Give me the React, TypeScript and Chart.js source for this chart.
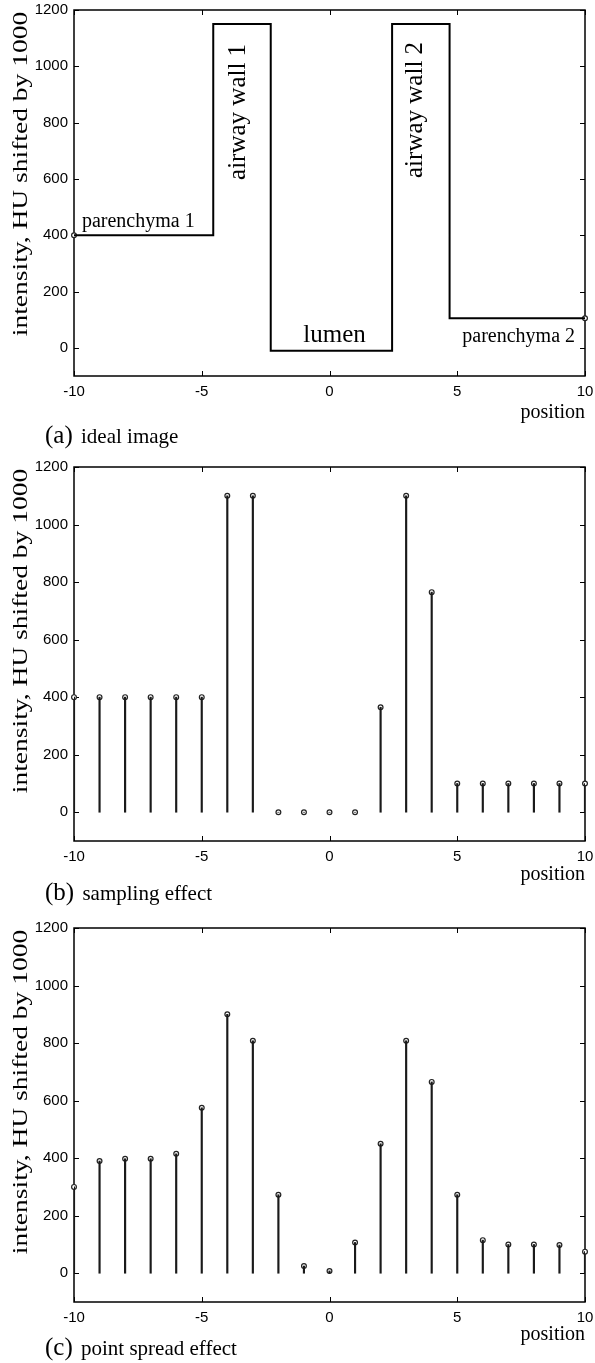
import React, { useEffect, useRef } from 'react';
import { Chart, registerables } from 'chart.js';

Chart.register(...registerables);

const SERIF = '"Liberation Serif", "Times New Roman", serif';
const SANS = '"Liberation Sans", Arial, sans-serif';

// ---------- data ----------
const xTickValues = [-10, -5, 0, 5, 10];
const yTickValues = [0, 200, 400, 600, 800, 1000, 1200];
const yAxisTitle = 'intensity, HU shifted by 1000';
const xAxisTitle = 'position';

// (a) ideal image: piecewise-constant profile
const idealX = [-10, -4.55, -4.55, -2.3, -2.3, 2.45, 2.45, 4.7, 4.7, 10];
const idealY = [400, 400, 1150, 1150, -10, -10, 1150, 1150, 105, 105];
const idealMarkerX = [-10, 10];
const idealMarkerY = [400, 105];
const regionNames = ['parenchyma 1', 'airway wall 1', 'lumen', 'airway wall 2', 'parenchyma 2'];

// (b) sampling effect, (c) point spread effect
const samplePositions = [-10, -9, -8, -7, -6, -5, -4, -3, -2, -1, 0, 1, 2, 3, 4, 5, 6, 7, 8, 9, 10];
const sampledValues = [400, 400, 400, 400, 400, 400, 1100, 1100, 0, 0, 0, 0, 365, 1100, 765, 100, 100, 100, 100, 100, 100];
const spreadValues = [300, 390, 398, 398, 415, 575, 900, 808, 273, 25, 8, 107, 450, 808, 665, 273, 115, 100, 100, 98, 75];

const captionTags = ['(a)', '(b)', '(c)'];
const captionTexts = ['ideal image', 'sampling effect', 'point spread effect'];

// ---------- layout (positions / styles) ----------
const PAGE_W = 595;
const AXIS_W = 74;
const X_AXIS_H = 50;
const panelLayout = [
  { top: 0, plotTop: 10, plotBottom: 376, titleY: 413, captionBaseline: 443 },
  { top: 457, plotTop: 467, plotBottom: 841, titleY: 875, captionBaseline: 900 },
  { top: 918, plotTop: 928, plotBottom: 1302, titleY: 1335, captionBaseline: 1355 },
];
// anchors of the region labels in data coordinates
const regionLabelAnchors = [
  { x: -9.69, y: 428, align: 'left', rotate: false, size: 20 },
  { x: -3.31, y: 838, align: 'center', rotate: true, size: 25 },
  { x: 0.2, y: 19, align: 'center', rotate: false, size: 25 },
  { x: 3.62, y: 845, align: 'center', rotate: true, size: 25 },
  { x: 9.61, y: 19, align: 'right', rotate: false, size: 20 },
];

const frameAndTitlePlugin = {
  id: 'frameAndTitle',
  beforeDatasetsDraw(chart: any) {
    const { ctx, chartArea: a, scales } = chart;
    ctx.save();
    ctx.strokeStyle = '#000';
    ctx.lineWidth = 1.5;
    ctx.strokeRect(a.left, a.top, a.right - a.left, a.bottom - a.top);
    ctx.lineWidth = 1;
    const L = 5;
    ctx.beginPath();
    for (const v of xTickValues) {
      const px = Math.round(scales.x.getPixelForValue(v)) + 0.5;
      ctx.moveTo(px, a.bottom);
      ctx.lineTo(px, a.bottom - L);
      ctx.moveTo(px, a.top);
      ctx.lineTo(px, a.top + L);
    }
    for (const v of yTickValues) {
      const py = Math.round(scales.y.getPixelForValue(v)) + 0.5;
      ctx.moveTo(a.left, py);
      ctx.lineTo(a.left + L, py);
      ctx.moveTo(a.right, py);
      ctx.lineTo(a.right - L, py);
    }
    ctx.stroke();
    ctx.restore();
  },
  afterDraw(chart: any) {
    const { ctx, chartArea: a } = chart;
    ctx.save();
    ctx.fillStyle = '#000';
    ctx.font = `22px ${SERIF}`;
    ctx.translate(27, a.top + 164);
    ctx.rotate(-Math.PI / 2);
    ctx.scale(1.25, 1);
    ctx.textAlign = 'center';
    ctx.textBaseline = 'alphabetic';
    ctx.fillText(yAxisTitle, 0, 0);
    ctx.restore();
  },
};

const regionLabelPlugin = {
  id: 'regionLabels',
  afterDatasetsDraw(chart: any) {
    const { ctx, scales } = chart;
    ctx.save();
    ctx.fillStyle = '#000';
    ctx.textBaseline = 'alphabetic';
    regionNames.forEach((name, i) => {
      const an = regionLabelAnchors[i];
      const px = scales.x.getPixelForValue(an.x);
      const py = scales.y.getPixelForValue(an.y);
      ctx.font = `${an.size}px ${SERIF}`;
      ctx.textAlign = an.align;
      if (an.rotate) {
        ctx.save();
        ctx.translate(px, py);
        ctx.rotate(-Math.PI / 2);
        ctx.fillText(name, 0, 0);
        ctx.restore();
      } else {
        ctx.fillText(name, px, py);
      }
    });
    ctx.restore();
  },
};

function makeScales(titlePad: number) {
  return {
    x: {
      type: 'linear',
      min: -10,
      max: 10,
      offset: false,
      grid: { display: false, drawTicks: false },
      border: { display: false },
      afterBuildTicks: (s: any) => {
        s.ticks = xTickValues.map((v) => ({ value: v }));
      },
      afterFit: (s: any) => {
        s.height = X_AXIS_H;
        s.paddingLeft = 0;
        s.paddingRight = 0;
      },
      ticks: {
        padding: 7,
        color: '#000',
        autoSkip: false,
        maxRotation: 0,
        font: { family: SANS, size: 15 },
        callback: (v: any) => String(v),
      },
      title: {
        display: true,
        text: xAxisTitle,
        align: 'end',
        color: '#000',
        font: { family: SERIF, size: 20, lineHeight: 1.2 },
        padding: { top: 0, bottom: titlePad },
      },
    },
    y: {
      type: 'linear',
      min: -100,
      max: 1200,
      grid: { display: false, drawTicks: false },
      border: { display: false },
      afterBuildTicks: (s: any) => {
        s.ticks = yTickValues.map((v) => ({ value: v }));
      },
      afterFit: (s: any) => {
        s.width = AXIS_W;
        s.paddingTop = 0;
        s.paddingBottom = 0;
      },
      ticks: {
        padding: 6,
        color: '#000',
        autoSkip: false,
        font: { family: SANS, size: 15 },
        callback: (v: any) => String(v),
      },
    },
  };
}

function baseOptions(titlePad: number) {
  return {
    responsive: false,
    animation: false,
    maintainAspectRatio: false,
    layout: { padding: { top: 10, right: PAGE_W - 585, left: 0, bottom: 0 } },
    plugins: { legend: { display: false }, tooltip: { enabled: false } },
    scales: makeScales(titlePad),
  };
}

const markerStyle = {
  showLine: false,
  pointRadius: 2.4,
  pointBorderWidth: 1.2,
  pointBorderColor: '#222',
  pointBackgroundColor: '#fff',
  clip: false,
};

function stemConfig(values: number[], titlePad: number) {
  const pts = samplePositions.map((x, i) => ({ x, y: values[i] }));
  return {
    type: 'bar',
    data: {
      datasets: [
        {
          type: 'bar',
          data: pts,
          backgroundColor: '#1a1a1a',
          barThickness: 1.5,
          borderWidth: 0,
        },
        {
          type: 'line',
          data: pts,
          ...markerStyle,
        },
      ],
    },
    options: baseOptions(titlePad),
    plugins: [frameAndTitlePlugin],
  };
}

function idealConfig(titlePad: number) {
  return {
    type: 'line',
    data: {
      datasets: [
        {
          data: idealX.map((x, i) => ({ x, y: idealY[i] })),
          borderColor: '#000',
          borderWidth: 2,
          pointRadius: 0,
          tension: 0,
          borderJoinStyle: 'miter',
          fill: false,
        },
        {
          data: idealMarkerX.map((x, i) => ({ x, y: idealMarkerY[i] })),
          ...markerStyle,
        },
      ],
    },
    options: baseOptions(titlePad),
    plugins: [frameAndTitlePlugin, regionLabelPlugin],
  };
}

export default function App() {
  const refA = useRef<HTMLCanvasElement | null>(null);
  const refB = useRef<HTMLCanvasElement | null>(null);
  const refC = useRef<HTMLCanvasElement | null>(null);

  const heights = panelLayout.map((p) => p.plotBottom + X_AXIS_H - p.top);
  const titlePads = panelLayout.map((p) => p.plotBottom + X_AXIS_H - p.titleY - 12);

  useEffect(() => {
    const charts: Chart[] = [];
    if (refA.current) charts.push(new Chart(refA.current, idealConfig(titlePads[0]) as any));
    if (refB.current) charts.push(new Chart(refB.current, stemConfig(sampledValues, titlePads[1]) as any));
    if (refC.current) charts.push(new Chart(refC.current, stemConfig(spreadValues, titlePads[2]) as any));
    return () => charts.forEach((c) => c.destroy());
  }, []);

  const refs = [refA, refB, refC];

  return (
    <div
      style={{
        position: 'absolute',
        left: 0,
        top: 0,
        width: PAGE_W,
        height: 1363,
        background: '#fff',
        overflow: 'hidden',
      }}
    >
      {panelLayout.map((p, i) => (
        <canvas
          key={'c' + i}
          ref={refs[i]}
          width={PAGE_W}
          height={heights[i]}
          style={{ position: 'absolute', left: 0, top: p.top, width: PAGE_W, height: heights[i] }}
        />
      ))}
      {panelLayout.map((p, i) => (
        <div
          key={'t' + i}
          style={{
            position: 'absolute',
            left: 45,
            top: p.captionBaseline - 20,
            fontFamily: SERIF,
            fontSize: 24,
            lineHeight: '24px',
            whiteSpace: 'nowrap',
            color: '#000',
          }}
        >
          <span style={{ fontSize: 25 }}>{captionTags[i]}</span>
          <span style={{ fontSize: 21, marginLeft: 3 }}> {captionTexts[i]}</span>
        </div>
      ))}
    </div>
  );
}
